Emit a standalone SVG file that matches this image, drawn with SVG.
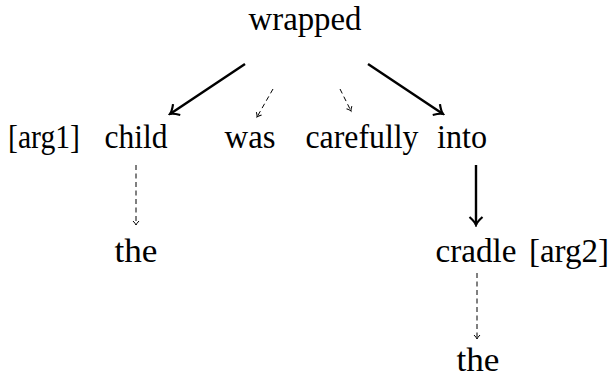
<svg xmlns="http://www.w3.org/2000/svg" width="614" height="377" viewBox="0 0 614 377">
<style>
text{font-family:"Liberation Serif","Times New Roman",serif;font-size:33px;fill:#000;text-anchor:middle}
.s{stroke:#000;stroke-width:2.4;fill:none}
.d{stroke:#000;stroke-width:1;fill:none;stroke-dasharray:5 3.5}
</style>
<defs>
<marker id="ah" markerUnits="userSpaceOnUse" viewBox="-10 -8 12 16" markerWidth="12" markerHeight="16" refX="0" refY="0" orient="auto">
<path d="M-8,-6.5 Q-3,-1 0,0 Q-3,1 -8,6.5" fill="none" stroke="#000" stroke-width="2.2"/>
</marker>
<marker id="ad" markerUnits="userSpaceOnUse" viewBox="-6 -5 8 10" markerWidth="8" markerHeight="10" refX="0" refY="0" orient="auto">
<path d="M-4,-3 Q-1.5,-0.5 0,0 Q-1.5,0.5 -4,3" fill="none" stroke="#000" stroke-width="1"/>
</marker>
</defs>
<g id="n-wrapped"><text x="305" y="30" textLength="113" lengthAdjust="spacingAndGlyphs">wrapped</text></g>
<g id="n-arg1"><text x="44" y="148" textLength="72" lengthAdjust="spacingAndGlyphs">[arg1]</text></g>
<g id="n-child"><text x="136" y="148" textLength="63" lengthAdjust="spacingAndGlyphs">child</text></g>
<g id="n-was"><text x="250" y="148" textLength="51" lengthAdjust="spacingAndGlyphs">was</text></g>
<g id="n-carefully"><text x="362" y="148" textLength="113" lengthAdjust="spacingAndGlyphs">carefully</text></g>
<g id="n-into"><text x="462" y="148" textLength="50" lengthAdjust="spacingAndGlyphs">into</text></g>
<g id="n-the1"><text x="136" y="262" textLength="43" lengthAdjust="spacingAndGlyphs">the</text></g>
<g id="n-cradle"><text x="476" y="262" textLength="81" lengthAdjust="spacingAndGlyphs">cradle</text></g>
<g id="n-arg2"><text x="609" y="262" font-size="31" style="text-anchor:end">[arg2]</text></g>
<g id="n-the2"><text x="478" y="371" textLength="43" lengthAdjust="spacingAndGlyphs">the</text></g>
<g id="connectors">
<line class="s" x1="245" y1="64" x2="170" y2="114" marker-end="url(#ah)"/>
<line class="s" x1="368" y1="64" x2="443" y2="114" marker-end="url(#ah)"/>
<line class="d" x1="273" y1="89" x2="257" y2="117" marker-end="url(#ad)"/>
<line class="d" x1="340" y1="89" x2="351" y2="111" marker-end="url(#ad)"/>
<line class="s" x1="476" y1="165" x2="476" y2="225" marker-end="url(#ah)"/>
<line class="d" x1="136" y1="165" x2="136" y2="225" marker-end="url(#ad)"/>
<line class="d" x1="477" y1="273" x2="477" y2="339" marker-end="url(#ad)"/>
</g>
</svg>
